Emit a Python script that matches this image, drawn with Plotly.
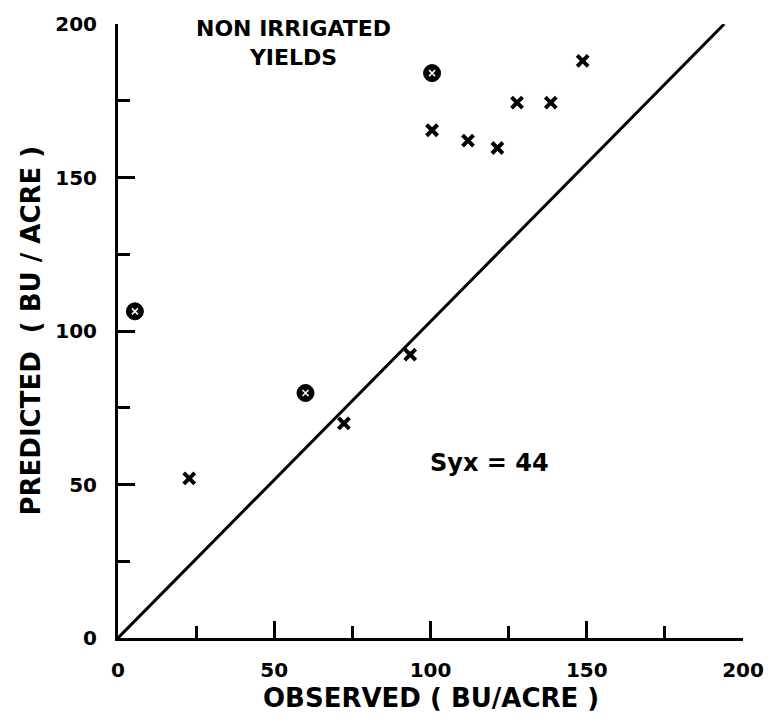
import plotly.graph_objects as go

# Observed vs predicted (bu/acre)
x_obs = [22.8, 72.3, 93.5, 100.5, 112.0, 121.4, 127.7, 138.5, 148.7]
x_pred = [52.0, 69.9, 92.3, 165.4, 162.0, 159.6, 174.4, 174.4, 188.0]
c_obs = [5.4, 60.0, 100.5]
c_pred = [106.4, 79.8, 184.0]
line_x = [0, 194]
line_y = [0, 200]
tick_vals = [0, 50, 100, 150, 200]
tick_text = ["0", "50", "100", "150", "200"]

FONT = "DejaVu Sans"

fig = go.Figure()
fig.add_trace(go.Scatter(x=line_x, y=line_y, mode="lines",
                         line=dict(color="black", width=3), showlegend=False))
fig.add_trace(go.Scatter(x=x_obs, y=x_pred, mode="markers", cliponaxis=False,
                         marker=dict(symbol="x-thin", size=11, color="black",
                                     line=dict(color="black", width=4)),
                         showlegend=False))
fig.add_trace(go.Scatter(x=c_obs, y=c_pred, mode="markers", cliponaxis=False,
                         marker=dict(symbol="circle", size=17, color="black",
                                     line=dict(color="black", width=1)),
                         showlegend=False))
fig.add_trace(go.Scatter(x=c_obs, y=c_pred, mode="markers", cliponaxis=False,
                         marker=dict(symbol="x-thin", size=6, color="white",
                                     line=dict(color="white", width=1.5)),
                         showlegend=False))

axis_common = dict(
    range=[0, 200], showgrid=False, zeroline=False, showline=True,
    linecolor="black", linewidth=3, mirror=False,
    ticks="inside", ticklen=17, tickwidth=2.5, tickcolor="black",
    tickvals=tick_vals, ticktext=tick_text,
    tickfont=dict(family=FONT, size=20, color="black", weight="bold"),
    minor=dict(ticks="inside", ticklen=12, tickwidth=2.5, tickcolor="black", dtick=25, tick0=0),
)

fig.update_xaxes(**axis_common, ticklabelstandoff=12)
fig.update_yaxes(**axis_common, ticklabelstandoff=14)

ann_font = dict(family=FONT, color="black", weight="bold")
fig.update_layout(
    width=776, height=717,
    margin=dict(l=118, r=25, t=15, b=79),
    plot_bgcolor="white", paper_bgcolor="white",
)
fig.add_annotation(text="NON IRRIGATED<br>YIELDS", x=56.0, y=193.8, xref="x", yref="y",
                   align="center", xanchor="center", yanchor="middle",
                   showarrow=False, font=dict(**ann_font, size=22))
fig.add_annotation(text="Syx = 44", x=119.0, y=57.0, xref="x", yref="y",
                   showarrow=False, font=dict(**ann_font, size=24))
fig.add_annotation(text="OBSERVED ( BU/ACRE )", x=0.5, y=-0.098, xref="paper", yref="paper",
                   xanchor="center", yanchor="middle",
                   showarrow=False, font=dict(**ann_font, size=26))
fig.add_annotation(text="PREDICTED  ( BU / ACRE )", x=-0.14, y=0.5, xref="paper", yref="paper",
                   xanchor="center", yanchor="middle",
                   textangle=-90, showarrow=False, font=dict(**ann_font, size=26))

fig.write_html("out.html")
